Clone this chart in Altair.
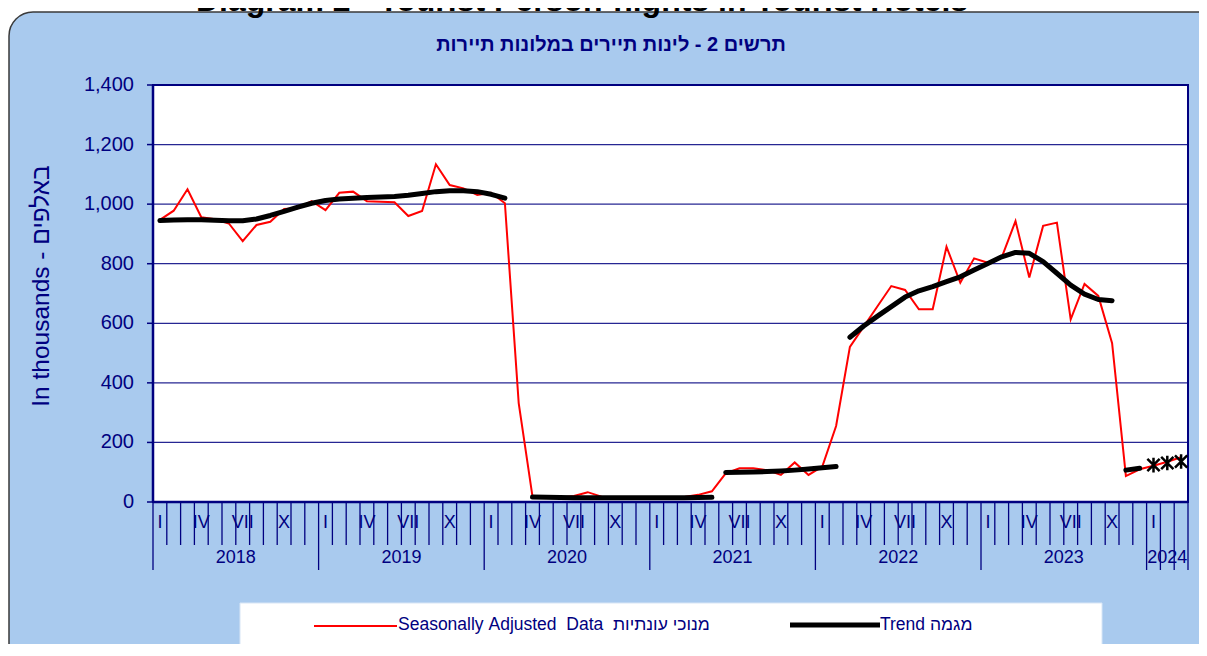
import altair as alt
import pandas as pd

# ---------------- data ----------------
years = [2018, 2019, 2020, 2021, 2022, 2023, 2024]
month_roman = ["I", "", "", "IV", "", "", "VII", "", "", "X", "", ""]

sa_2018 = [947, 978, 1050, 956, 949, 935, 876, 930, 941, 984, 986, 1010]
sa_2019 = [980, 1038, 1042, 1010, 1008, 1006, 960, 977, 1134, 1064, 1053, 1031]
sa_2020 = [1038, 1003, 332, 18, 15, 14, 20, 33, 18, 12, 14, 15]
sa_2021 = [14, 15, 17, 24, 36, 96, 113, 113, 107, 91, 133, 91]
sa_2022 = [119, 255, 521, 589, 657, 725, 712, 647, 647, 857, 736, 818]
sa_2023 = [803, 821, 943, 754, 927, 938, 613, 732, 692, 533, 87, 110]
sa_2024 = [122, 135, 150]

trend_seg_starts = [(2018, 1), (2020, 4), (2021, 6), (2022, 3), (2023, 11)]
trend_seg_1 = [945, 947, 948, 948, 946, 944, 944, 950, 962, 976, 990, 1003,
               1012, 1017, 1020, 1022, 1024, 1026, 1030, 1036, 1042, 1045, 1045, 1042,
               1033, 1020]
trend_seg_2 = [17, 16, 15, 14, 14, 14, 14, 14, 14, 14, 14, 14, 15, 16]
trend_seg_3 = [99, 100, 101, 102, 104, 107, 111, 115, 119]
trend_seg_4 = [553, 591, 624, 656, 688, 709, 723, 740, 756, 779, 801, 823,
               838, 835, 807, 768, 728, 698, 680, 676]
trend_seg_5 = [107, 113]
trend_provisional_start = (2024, 1)
trend_provisional = [124, 131, 136]

y_ticks = [0, 200, 400, 600, 800, 1000, 1200, 1400]

title_text = "Diagram 2 - Tourist Person-nights in Tourist Hotels"
subtitle_text = "תרשים 2 - לינות תיירים במלונות תיירות"
y_title = "In thousands - באלפים"
legend_sa = "Seasonally\u00a0Adjusted\u00a0\u00a0Data\u00a0\u00a0מנוכי עונתיות"
legend_trend = "Trend\u00a0מגמה"

# ---------------- tables ----------------
def idx_of(y, m):
    return (y - years[0]) * 12 + (m - 1)

sa_all = sa_2018 + sa_2019 + sa_2020 + sa_2021 + sa_2022 + sa_2023 + sa_2024
n_months = len(sa_all)
df_sa = pd.DataFrame({"idx": list(range(n_months)), "value": sa_all})

segs = [trend_seg_1, trend_seg_2, trend_seg_3, trend_seg_4, trend_seg_5]
rows = []
for s, ((yy, mm), vals) in enumerate(zip(trend_seg_starts, segs)):
    start = idx_of(yy, mm)
    for k, v in enumerate(vals):
        rows.append({"idx": start + k, "value": v, "seg": s})
df_trend = pd.DataFrame(rows)

ps = idx_of(*trend_provisional_start)
df_prov = pd.DataFrame({"idx": [ps + k for k in range(len(trend_provisional))],
                        "value": trend_provisional})

df_grid = pd.DataFrame({"v": y_ticks, "lab": [f"{v:,}" for v in y_ticks]})

bounds = []
for k in range(n_months + 1):
    long = (k % 12 == 0) or (k >= (len(years) - 1) * 12)
    bounds.append({"b": k - 0.5, "long": long})
df_bounds = pd.DataFrame(bounds)

roman_rows = []
for i in range(n_months):
    lab = month_roman[i % 12]
    if lab:
        roman_rows.append({"idx": i, "lab": lab})
df_roman = pd.DataFrame(roman_rows)

year_rows = []
for j, yv in enumerate(years):
    first = j * 12
    last = min(first + 11, n_months - 1)
    year_rows.append({"c": (first + last) / 2, "lab": str(yv)})
df_years = pd.DataFrame(year_rows)

one = pd.DataFrame({"a": [0]})

# ---------------- styling ----------------
W, H = 1035, 417
NAVY = "#000080"
FONT = "Liberation Sans"

xs = alt.Scale(domain=[-0.5, n_months - 0.5], nice=False, zero=False)
ys = alt.Scale(domain=[0, 1400], nice=False)

panel = alt.Chart(one).mark_rect(
    fill="#A9CAEE", stroke="#3a3a3a", strokeWidth=1.5, cornerRadius=24
).encode(x=alt.value(-144), x2=alt.value(W + 60), y=alt.value(-73), y2=alt.value(H + 200))

title = alt.Chart(one).mark_text(
    text=title_text, font=FONT, fontSize=32, fontWeight="bold", color="#000000",
    align="center", baseline="alphabetic"
).encode(x=alt.value(429), y=alt.value(-74))

subtitle = alt.Chart(one).mark_text(
    text=subtitle_text, font=FONT, fontSize=20, fontWeight="bold", color=NAVY,
    align="center", baseline="middle"
).encode(x=alt.value(458), y=alt.value(-40))

plotbg = alt.Chart(one).mark_rect(
    fill="white", stroke=NAVY, strokeWidth=2
).encode(x=alt.value(0), x2=alt.value(W), y=alt.value(0), y2=alt.value(H))

grid = alt.Chart(df_grid).mark_rule(color=NAVY, strokeWidth=1.2, opacity=0.85).encode(
    y=alt.Y("v:Q", scale=ys, axis=None), x=alt.value(0), x2=alt.value(W)
)

y_tick_marks = alt.Chart(df_grid).mark_rule(color=NAVY, strokeWidth=1.5).encode(
    y=alt.Y("v:Q", scale=ys, axis=None), x=alt.value(-6), x2=alt.value(0)
)

y_labels = alt.Chart(df_grid).mark_text(
    font=FONT, fontSize=20, color=NAVY, align="right", baseline="middle"
).encode(y=alt.Y("v:Q", scale=ys, axis=None), x=alt.value(-19), text="lab:N")

y_title_txt = alt.Chart(one).mark_text(
    text=y_title, font=FONT, fontSize=24.5, color=NAVY, angle=270,
    align="center", baseline="middle"
).encode(x=alt.value(-111), y=alt.value(201))

left_line = alt.Chart(one).mark_rule(color=NAVY, strokeWidth=2.5).encode(
    x=alt.value(0), y=alt.value(0), y2=alt.value(H)
)

sa_line = alt.Chart(df_sa).mark_line(color="#FF0000", strokeWidth=2).encode(
    x=alt.X("idx:Q", scale=xs, axis=None),
    y=alt.Y("value:Q", scale=ys, axis=None),
)

trend_line = alt.Chart(df_trend).mark_line(
    color="black", strokeWidth=5, strokeCap="round", strokeJoin="round"
).encode(
    x=alt.X("idx:Q", scale=xs, axis=None),
    y=alt.Y("value:Q", scale=ys, axis=None),
    detail="seg:N",
)

ast_shape = "M-1,-1L1,1M-1,1L1,-1M0,-1.2L0,1.2"
prov = alt.Chart(df_prov).mark_point(
    shape=ast_shape, filled=False, stroke="black", strokeWidth=2.5, size=150, opacity=1
).encode(
    x=alt.X("idx:Q", scale=xs, axis=None),
    y=alt.Y("value:Q", scale=ys, axis=None),
)

short_ticks = alt.Chart(df_bounds).transform_filter("!datum.long").mark_rule(
    color=NAVY, strokeWidth=1.3
).encode(x=alt.X("b:Q", scale=xs, axis=None), y=alt.value(H), y2=alt.value(H + 43))

long_ticks = alt.Chart(df_bounds).transform_filter("datum.long").mark_rule(
    color=NAVY, strokeWidth=1.3
).encode(x=alt.X("b:Q", scale=xs, axis=None), y=alt.value(H), y2=alt.value(H + 68))

bottom_line = alt.Chart(one).mark_rule(color=NAVY, strokeWidth=2.5).encode(
    x=alt.value(0), x2=alt.value(W), y=alt.value(H)
)

roman_txt = alt.Chart(df_roman).mark_text(
    font=FONT, fontSize=18, color=NAVY, baseline="middle", align="center"
).encode(x=alt.X("idx:Q", scale=xs, axis=None), y=alt.value(438), text="lab:N")

year_txt = alt.Chart(df_years).mark_text(
    font=FONT, fontSize=18, color=NAVY, baseline="middle", align="center"
).encode(x=alt.X("c:Q", scale=xs, axis=None), y=alt.value(473), text="lab:N")

leg_box = alt.Chart(one).mark_rect(fill="white", stroke="#d8e6f6", strokeWidth=1).encode(
    x=alt.value(87), x2=alt.value(949), y=alt.value(518), y2=alt.value(560)
)
leg_red = alt.Chart(one).mark_rule(color="#FF0000", strokeWidth=2).encode(
    x=alt.value(161), x2=alt.value(244), y=alt.value(541)
)
leg_red_txt = alt.Chart(one).mark_text(
    text=legend_sa, font=FONT, fontSize=17.5, color=NAVY, align="left", baseline="middle"
).encode(x=alt.value(245), y=alt.value(540))
leg_blk = alt.Chart(one).mark_rule(color="black", strokeWidth=5).encode(
    x=alt.value(637), x2=alt.value(727), y=alt.value(540)
)
leg_blk_txt = alt.Chart(one).mark_text(
    text=legend_trend, font=FONT, fontSize=17.5, color=NAVY, align="left", baseline="middle"
).encode(x=alt.value(727), y=alt.value(540))

chart = alt.layer(
    panel, title, subtitle, plotbg, grid, sa_line, trend_line, prov,
    short_ticks, long_ticks, bottom_line, left_line, y_tick_marks, y_labels, y_title_txt,
    roman_txt, year_txt,
    leg_box, leg_red, leg_red_txt, leg_blk, leg_blk_txt,
).properties(
    width=W, height=H,
    autosize=alt.AutoSizeParams(type="none"),
    padding={"left": 145, "top": 77, "right": 11, "bottom": 142},
    background="white",
).configure_view(stroke=None).configure(font=FONT)

chart.save("out.html", embed_options={"renderer": "svg", "actions": False})
